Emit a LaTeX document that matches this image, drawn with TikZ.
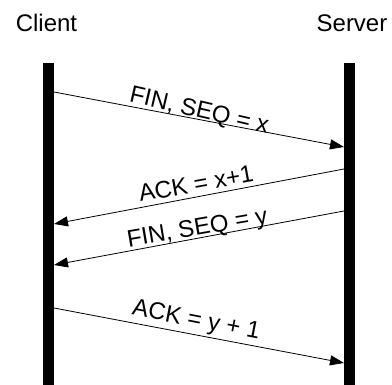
\documentclass[tikz,border=0pt]{standalone}
\usepackage{fontspec}
\setmainfont{Liberation Sans}
\usetikzlibrary{arrows.meta}
\begin{document}
\begin{tikzpicture}[x=1pt,y=-1pt,
  every node/.style={font=\fontsize{24}{28}\selectfont, inner sep=0pt},
  lifeline/.style={fill=black, draw=none, minimum width=11pt, minimum height=322pt, anchor=north},
  msg/.style={line width=0.8pt, -{Triangle[length=14pt,width=10pt]}},
  msglabel/.style={anchor=base}]
\useasboundingbox (0,0) rectangle (392,385);
% participants
\node[anchor=base] (client) at (46.5,32) {Client};
\node[anchor=base] (server) at (352,32) {Server};
% lifelines
\node[lifeline] (cbar) at (48.5,63) {};
\node[lifeline] (sbar) at (349.5,63) {};
% message end points on the lifelines
\coordinate (c1) at (54,92);   \coordinate (s1) at (344,147);
\coordinate (s2) at (344,169); \coordinate (c2) at (54,224);
\coordinate (s3) at (344,211); \coordinate (c3) at (54,265);
\coordinate (c4) at (54,308);  \coordinate (s4) at (344,363);
% messages
\draw[msg] (c1) -- (s1);
\draw[msg] (s2) -- (c2);
\draw[msg] (s3) -- (c3);
\draw[msg] (c4) -- (s4);
% labels
\node[msglabel, rotate=-13] (l1) at (197.7,117.6) {FIN, SEQ = x};
\node[msglabel, rotate=10.2] (l2) at (197.5,191.7) {ACK = x+1};
\node[msglabel, rotate=9.7] (l3) at (198.5,235.3) {FIN, SEQ = y};
\node[msglabel, rotate=-11] (l4) at (195,327) {ACK = y + 1};
\end{tikzpicture}
\end{document}
